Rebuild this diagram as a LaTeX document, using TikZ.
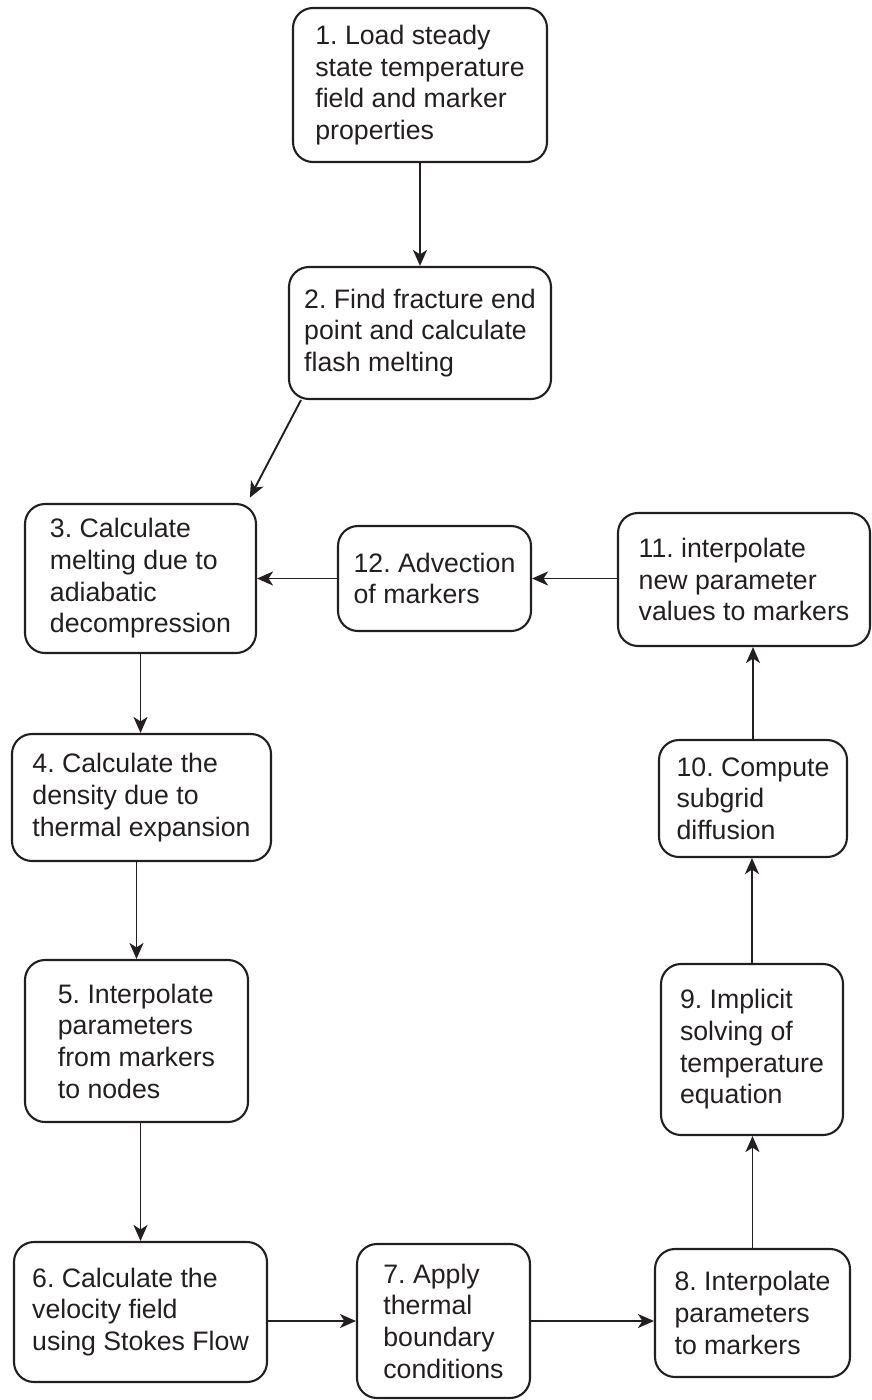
\documentclass[tikz,border=0pt]{standalone}
\usepackage{fontspec}
\setmainfont{Liberation Sans}
\usetikzlibrary{arrows.meta}
\definecolor{ink}{RGB}{35,31,32}
\begin{document}
\frenchspacing
\begin{tikzpicture}[x=1pt,y=-1pt,
  stepbox/.style={draw=ink,line width=2.1pt,rounded corners=20pt,inner sep=0pt,
    align=left,text=ink,font=\fontsize{26.7}{31.7}\selectfont},
  arr/.style={draw=ink,line width=1.9pt,-{Stealth[length=16pt,width=14pt,inset=4.5pt]}}]
\useasboundingbox (0,0) rectangle (871,1400);
% process steps, placed by centre with fixed box sizes
\node[stepbox,minimum width=254pt,minimum height=154pt] (b1) at (420,85)
  {1. Load steady\\state temperature\\field and marker\\properties};
\node[stepbox,minimum width=262pt,minimum height=132pt] (b2) at (420,333)
  {2. Find fracture end\\point and calculate\\flash melting};
\node[stepbox,minimum width=231pt,minimum height=149pt] (b3) at (140.5,578.5)
  {3. Calculate\\melting due to\\adiabatic\\decompression};
\node[stepbox,minimum width=259pt,minimum height=127pt] (b4) at (141.5,797.5)
  {4. Calculate the\\density due to\\thermal expansion};
\node[stepbox,minimum width=223pt,minimum height=162pt] (b5) at (136.5,1041)
  {5. Interpolate\\parameters\\from markers\\to nodes};
\node[stepbox,minimum width=253pt,minimum height=140pt] (b6) at (140.5,1312)
  {6. Calculate the\\velocity field\\using Stokes Flow};
\node[stepbox,minimum width=173pt,minimum height=154pt] (b7) at (443.5,1321)
  {7. Apply\\thermal\\boundary\\conditions};
\node[stepbox,minimum width=195pt,minimum height=128pt] (b8) at (752.5,1313)
  {8. Interpolate\\parameters\\to markers};
\node[stepbox,minimum width=182pt,minimum height=171pt] (b9) at (752,1049.5)
  {9. Implicit\\solving of\\temperature\\equation};
\node[stepbox,minimum width=188pt,minimum height=117pt] (b10) at (753,798.5)
  {10. Compute\\subgrid\\diffusion};
\node[stepbox,minimum width=252pt,minimum height=133pt] (b11) at (744,579.5)
  {11. interpolate\\new parameter\\values to markers};
\node[stepbox,minimum width=193pt,minimum height=105pt] (b12) at (434.5,578.5)
  {12. Advection\\of markers};
% connectors
\draw[arr] (b1.south) -- (b2.north);
\draw[arr,shorten >=6pt] ([xshift=13pt]b2.south west) -- ([xshift=-10pt]b3.north east);
\draw[arr] (b3.south) -- (b3.south |- b4.north);
\draw[arr] (b5.north |- b4.south) -- (b5.north);
\draw[arr] (b6.north |- b5.south) -- (b6.north);
\draw[arr] (b6.east |- b7.west) -- (b7.west);
\draw[arr] (b7.east) -- (b8.west |- b7.east);
\draw[arr] (b8.north) -- (b8.north |- b9.south);
\draw[arr] (b9.north) -- (b9.north |- b10.south);
\draw[arr] (b10.north) -- (b10.north |- b11.south);
\draw[arr] (b11.west |- b12.east) -- (b12.east);
\draw[arr] (b12.west) -- (b3.east);
\end{tikzpicture}
\end{document}
